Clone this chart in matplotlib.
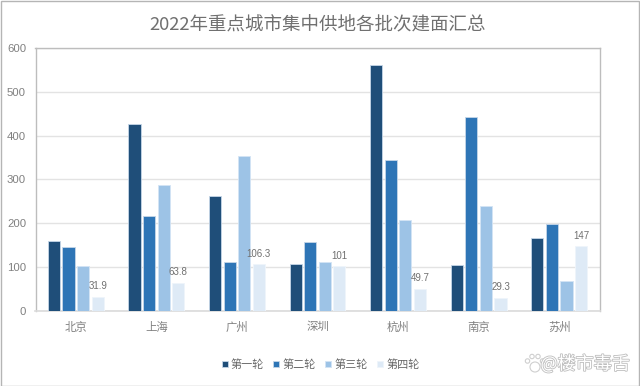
import matplotlib

matplotlib.use("Agg")
import matplotlib.patheffects as pe
import matplotlib.pyplot as plt
import numpy as np
from matplotlib.patches import Circle, Rectangle

plt.rcParams["font.family"] = ["Noto Sans CJK SC", "DejaVu Sans"]

cities = ["北京", "上海", "广州", "深圳", "杭州", "南京", "苏州"]
round_names = ["第一轮", "第二轮", "第三轮", "第四轮"]
round1 = [160, 426, 261, 107, 561, 105, 165]
round2 = [145, 216, 112, 158, 344, 443, 198]
round3 = [101, 287, 353, 111, 207, 238, 68]
round4 = [31.9, 63.8, 106.3, 101, 49.7, 29.3, 147]
round4_labels = ["31.9", "63.8", "106.3", "101", "49.7", "29.3", "147"]
y_ticks = [0, 100, 200, 300, 400, 500, 600]

colors = ["#1F4E79", "#2E75B6", "#9DC3E6", "#DEEAF6"]
edges = ["#C5D6E8", "#C5D6E8", "#D3E4F5", "#EFF5FB"]
W, H = 640, 386

fig = plt.figure(figsize=(W / 100, H / 100), dpi=100, facecolor="white")
ax = fig.add_axes([35.5 / W, 1 - 310.7 / H, 564 / W, 262.7 / H])

x = np.arange(len(cities))
step = 0.181
for i, values in enumerate([round1, round2, round3, round4]):
    ax.bar(x + (i - 1.5) * step, values, width=0.152, color=colors[i],
           edgecolor=edges[i], linewidth=0.6, label=round_names[i], zorder=3)

# only the last round carries value labels
for xi, v, lab in zip(x, round4, round4_labels):
    ax.annotate(lab, (xi + 1.5 * step, v), xytext=(0, 4), textcoords="offset points",
                ha="center", va="bottom", fontsize=7, color="#707070", zorder=4,
                family=["Liberation Sans", "DejaVu Sans"])

ax.set_xlim(-0.5, len(cities) - 0.5)
ax.set_ylim(0, 600)
ax.set_yticks(y_ticks)
ax.set_xticks(x)
ax.set_xticklabels(cities)
ax.tick_params(axis="both", length=0, labelsize=8.2, labelcolor="#808080")
ax.tick_params(axis="x", pad=8)
ax.tick_params(axis="y", pad=6.8)
for lab in ax.get_yticklabels():
    lab.set_family(["Liberation Sans", "DejaVu Sans"])
    lab.set_fontsize(8.2)
ax.grid(axis="y", color="#E3E3E3", linewidth=1, zorder=0)
ax.set_axisbelow(True)
for side in ["top", "left", "right"]:
    ax.spines[side].set_color("#BDBDBD")
    ax.spines[side].set_linewidth(1)
ax.spines["bottom"].set_color("#DADADA")
ax.spines["bottom"].set_linewidth(1.2)

fig.text(317.5 / W, 1 - 25 / H, "2022年重点城市集中供地各批次建面汇总", ha="center", va="center",
         fontsize=13.3, color="#707070")

ax.legend(loc="center", bbox_to_anchor=(320.5 / W, 1 - 364.5 / H), bbox_transform=fig.transFigure,
          ncol=4, frameon=False, fontsize=8, labelcolor="#666666", handlelength=0.55,
          handleheight=0.55, handletextpad=0.3, columnspacing=0.8)

# watermark
fig.text(585 / W, 1 - 364 / H, "@楼市毒舌", ha="center", va="center", fontsize=13,
         color="white", path_effects=[pe.withStroke(linewidth=1.2, foreground="#BEBEBE")], zorder=6)
paw = [(527.5, 361, 2.2), (532, 356.5, 2.2), (538, 356.5, 2.2), (542.5, 361, 2.2), (535, 367, 5)]
for px, py, r in paw:
    fig.add_artist(Circle((px, H - py), r, transform=None, facecolor="white",
                          edgecolor="#CFCFCF", linewidth=0.8))

# outer chart frame
fig.add_artist(Rectangle((0.5 / W, 0.5 / H), 638.5 / W, 385 / H, transform=fig.transFigure,
                         fill=False, edgecolor="#B5B5B5", linewidth=1))

fig.savefig("out.png", dpi=100)
